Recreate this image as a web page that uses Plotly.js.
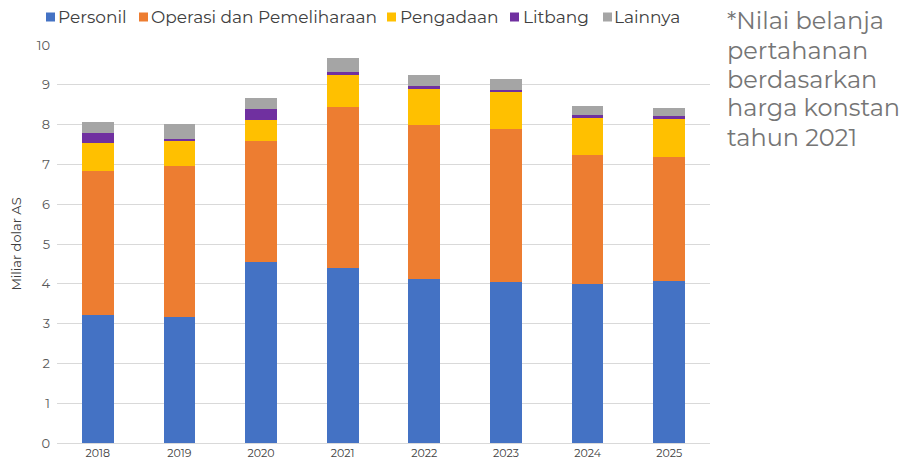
<!DOCTYPE html>
<html>
<head>
<meta charset="utf-8">
<script src="https://cdn.plot.ly/plotly-3.0.1.min.js"></script>
<style>html,body{margin:0;padding:0;background:#fff;}#chart{width:902px;height:466px;}</style>
</head>
<body>
<div id="chart"></div>
<script>
const years = ["2018","2019","2020","2021","2022","2023","2024","2025"];
const personil = [3.21, 3.16, 4.55, 4.40, 4.12, 4.04, 3.99, 4.08];
const operasi = [3.62, 3.81, 3.03, 4.03, 3.87, 3.86, 3.25, 3.11];
const pengadaan = [0.70, 0.63, 0.54, 0.82, 0.90, 0.93, 0.93, 0.96];
const litbang = [0.26, 0.04, 0.28, 0.06, 0.07, 0.05, 0.06, 0.06];
const lainnya = [0.28, 0.37, 0.27, 0.36, 0.29, 0.26, 0.24, 0.21];
const seriesNames = ["Personil", "Operasi dan Pemeliharaan", "Pengadaan", "Litbang", "Lainnya"];
const seriesColors = ["#4472C4", "#ED7D31", "#FFC000", "#7030A0", "#A5A5A5"];
const yTicks = [0,1,2,3,4,5,6,7,8,9,10];
const noteLines = ["*Nilai belanja", "pertahanan", "berdasarkan", "harga konstan", "tahun 2021"];

const font = "Montserrat, 'Open Sans', 'DejaVu Sans', sans-serif";

// plot-area geometry (pixels) used to place legend / note in paper coordinates
const W = 902, H = 466;
const M = {l: 57, r: 192, t: 45, b: 23};
const pw = W - M.l - M.r, ph = H - M.t - M.b;
const px = x => (x - M.l) / pw;
const py = y => (H - M.b - y) / ph;

const allSeries = [personil, operasi, pengadaan, litbang, lainnya];
const traces = allSeries.map((vals, i) => ({
  type: "bar",
  name: seriesNames[i],
  x: years,
  y: vals,
  marker: {color: seriesColors[i], line: {width: 0}},
  hoverinfo: "x+y+name"
}));

// custom legend (compact, like the reference)
const legendSquareX = [46, 139, 387, 510, 603];
const legendTextX = [58, 151, 400, 523, 614];
const legendY = 17;
const shapes = seriesNames.map((n, i) => ({
  type: "rect", xref: "paper", yref: "paper",
  x0: px(legendSquareX[i]), x1: px(legendSquareX[i] + 9),
  y0: py(legendY + 4.5), y1: py(legendY - 4.5),
  fillcolor: seriesColors[i], line: {width: 0}
}));
const annotations = seriesNames.map((n, i) => ({
  xref: "paper", yref: "paper",
  x: px(legendTextX[i] - 2), y: py(legendY), xanchor: "left", yanchor: "middle",
  text: n, showarrow: false,
  font: {size: 17, color: "#404040", family: font}
}));
const noteY = [21, 50, 79, 108, 137];
noteLines.forEach((t, i) => annotations.push({
  xref: "paper", yref: "paper",
  x: px(725), y: py(noteY[i]), xanchor: "left", yanchor: "middle",
  text: t, showarrow: false, align: "left",
  font: {size: 24, color: "#757575", family: font}
}));

const layout = {
  width: W, height: H,
  margin: M,
  barmode: "stack",
  bargap: 0.61,
  paper_bgcolor: "#fff",
  plot_bgcolor: "#fff",
  font: {family: font, color: "#404040"},
  showlegend: false,
  xaxis: {
    type: "category",
    tickfont: {size: 11, color: "#404040"},
    showline: true, linecolor: "#D9D9D9", linewidth: 1,
    ticks: "", showgrid: false, zeroline: false
  },
  yaxis: {
    range: [0, 10],
    tickvals: yTicks,
    ticktext: yTicks.map(String),
    tickfont: {size: 13, color: "#595959"},
    gridcolor: "#D9D9D9", gridwidth: 1,
    zeroline: false,
    ticks: "", ticklen: 0,
    ticklabelstandoff: 6,
    title: {text: "Miliar dolar AS", font: {size: 13, color: "#404040"}, standoff: 12}
  },
  shapes: shapes,
  annotations: annotations
};

Plotly.newPlot("chart", traces, layout, {displayModeBar: false, staticPlot: true});
</script>
</body>
</html>
